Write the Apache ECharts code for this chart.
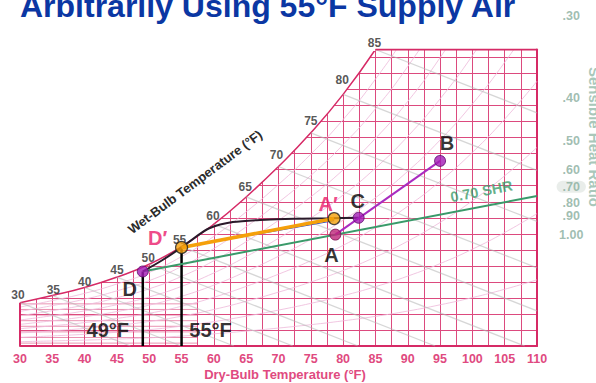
<!DOCTYPE html>
<html>
<head>
<meta charset="utf-8">
<script src="https://cdn.jsdelivr.net/npm/echarts@6/dist/echarts.min.js"></script>
<style>
  html, body { margin: 0; padding: 0; background: #fff; }
  #chart { width: 596px; height: 383px; }
</style>
</head>
<body>
<div id="chart"></div>
<script>
// Dry-bulb scale (°F)
const dryBulbTicks = [30, 35, 40, 45, 50, 55, 60, 65, 70, 75, 80, 85, 90, 95, 100, 105, 110];
// Saturation curve: dry-bulb (°F) vs humidity ratio (grains per lb of dry air)
const satDryBulb = [30, 35, 40, 45, 50, 55, 60, 65, 70, 75, 80, 85, 90, 95, 100, 105, 110];
const satGrains  = [27, 31.5, 36.5, 43, 51, 62, 76, 93, 112, 133, 157, 185, 218, 257, 302, 354, 413];
// Wet-bulb scale printed along the saturation curve
const wetBulbLabels = [30, 35, 40, 45, 50, 55, 60, 65, 70, 75, 80, 85];
// Relative-humidity curves (%)
const rhLevels = [10, 20, 30, 40, 50, 60, 70, 80, 90];
// Fine humidity-ratio rules in the cold corner (grains/lb)
const fineGrains = [1.8, 5.3, 8.8, 12.3, 15.8, 19.3, 22.8, 26.3];
// Sensible heat ratio scale
const shrLabels = ['.30', '.40', '.50', '.60', '.70', '.80', '.90', '1.00'];
const shrGrains = [206, 155, 128, 110, 99.4, 89.4, 81.2, 69.4];

// State points [dry-bulb °F, grains/lb]
const pointA  = [78.8, 69.5];
const pointB  = [95, 115.5];
const pointC  = [82.4, 80];
const pointD  = [49, 46.5];
const pointAp = [78.6, 79.5];
const pointDp = [55, 61.5];
// Coil process curve from D up to C
const coilCurve = [[49, 46.5], [52, 53.5], [55, 61.5], [57, 67.5], [59.3, 73.5], [62.9, 77.3], [68, 78.8], [73, 79.4], [78, 79.7], [82.4, 80]];
// 0.70 SHR room line end on the right edge
const shrLineEnd = [110, 93.6];

const GRID_PINK = '#dc4a7e';
const EDGE_PINK = '#d62a66';
const WB_SLOPE = 1.58;          // grains per °F along a wet-bulb line
const FONT = 'Liberation Sans, Arial, Helvetica, sans-serif';

const pairs = (xs, ys) => xs.map((x, i) => [x, ys[i]]);
const satIdx85 = satDryBulb.indexOf(85);
const satCurve = pairs(satDryBulb.slice(0, satIdx85 + 1), satGrains.slice(0, satIdx85 + 1));

// wet-bulb lines start on the saturation curve and run down to the right
const wbSeries = wetBulbLabels.map(t => {
  const w0 = satGrains[satDryBulb.indexOf(t)];
  let xEnd = t + w0 / WB_SLOPE;
  if (xEnd > 110) xEnd = 110;
  return {
    type: 'line', z: 3, silent: true, symbol: 'none',
    data: [[t, w0], [xEnd, w0 - (xEnd - t) * WB_SLOPE]],
    lineStyle: { color: '#b4b4b4', width: 1.3, opacity: 0.55 }
  };
});

const rhSeries = rhLevels.map(rh => ({
  type: 'line', z: 3, silent: true, symbol: 'none', smooth: true,
  data: satDryBulb.map((t, i) => [t, satGrains[i] * rh / 100]),
  lineStyle: { color: '#eebcdc', width: 1, opacity: 0.85 }
}));

const fineSeries = fineGrains.map(g => ({
  type: 'line', z: 1, silent: true, symbol: 'none',
  data: [[30, g], [57.5, g]],
  lineStyle: { color: GRID_PINK, width: 0.8, opacity: 0.75 }
}));

// label offsets for the wet-bulb numbers (px)
const wbLabelOffset = [[-2, -8], [1, -6], [0, -6], [0, -7], [-1, -6], [-2, -7], [-1, -8], [-1, -10], [-2, -11], [0, -12], [-1, -14], [-1, -7]];

const shrRef = pointA;
const shrTicks = shrGrains.map(g => {
  const end = [112.6, g - 1.5];
  const k = (end[1] - shrRef[1]) / (end[0] - shrRef[0]);
  return [[110.6, end[1] - 2 * k], end];
});

const stateLabel = (text, color, offset) => ({
  show: true, position: 'inside', offset, formatter: text,
  color, fontFamily: FONT, fontWeight: 'bold', fontSize: 20
});

const txt = (x, y, text, fill, font, align, extra) => Object.assign({
  type: 'text', x, y, z: 100, silent: true,
  style: { text, fill, font: font + ' ' + FONT, textAlign: align, textVerticalAlign: 'middle', verticalAlign: 'middle' }
}, extra || {});

const option = {
  animation: false,
  grid: { left: 20, right: 59, top: 49.5, bottom: 37 },
  xAxis: {
    type: 'value', min: 30, max: 110, interval: 5,
    axisLine: { lineStyle: { color: EDGE_PINK, width: 2 } },
    axisTick: { show: false },
    minorTick: { show: false, splitNumber: 2 },
    axisLabel: {
      color: '#e04a80', fontFamily: FONT, fontWeight: 'bold', fontSize: 12.5, margin: 6,
      customValues: dryBulbTicks
    },
    splitLine: { show: true, lineStyle: { color: GRID_PINK, width: 1 } },
    minorSplitLine: { show: true, lineStyle: { color: GRID_PINK, width: 1 } }
  },
  yAxis: {
    type: 'value', min: 0, max: 185, interval: 10, position: 'right',
    axisLine: { show: true, lineStyle: { color: EDGE_PINK, width: 2 } },
    axisTick: { show: false },
    axisLabel: { show: false },
    splitLine: { show: true, lineStyle: { color: GRID_PINK, width: 1 } }
  },
  graphic: [
    txt(20, 6, 'Arbitrarily Using 55°F Supply Air', '#0b37a3', 'bold 32px', 'left'),
    txt(195, 182, 'Wet-Bulb Temperature (°F)', '#2b2b2b', 'bold 13px', 'center', { rotation: 0.642 }),
    txt(285, 374, 'Dry-Bulb Temperature (°F)', '#e04a80', 'bold 13px', 'center'),
    txt(594, 137, 'Sensible Heat Ratio', '#a9c7ba', 'bold 15px', 'center', { rotation: -Math.PI / 2 })
  ],
  series: [
    ...fineSeries,
    // saturation curve; the white area above it hides the grid
    {
      type: 'line', z: 2, silent: true, symbol: 'none', smooth: true,
      data: satCurve,
      lineStyle: { color: EDGE_PINK, width: 1.5 },
      areaStyle: { color: '#ffffff', opacity: 1, origin: 'end' }
    },
    // clear the top grid line above the saturation curve
    { type: 'line', z: 2, silent: true, symbol: 'none', clip: false, data: [[29, 185], [85, 185]], lineStyle: { color: '#ffffff', width: 3 } },
    ...rhSeries,
    ...wbSeries,
    // chart outline: top edge and left edge
    { type: 'line', z: 4, silent: true, symbol: 'none', data: [[85, 185], [110, 185]], lineStyle: { color: EDGE_PINK, width: 2 } },
    { type: 'line', z: 4, silent: true, symbol: 'none', data: [[30, 0], satCurve[0]], lineStyle: { color: EDGE_PINK, width: 2 } },
    // wet-bulb numbers
    {
      type: 'scatter', z: 5, silent: true, symbolSize: 0,
      data: wetBulbLabels.map((t, i) => ({
        value: [t, satGrains[satDryBulb.indexOf(t)]],
        label: { offset: wbLabelOffset[i] }
      })),
      label: { show: true, position: 'inside', formatter: p => String(p.value[0]), color: '#2b2b2b', fontFamily: FONT, fontWeight: 'bold', fontSize: 12 }
    },
    // dry-bulb drop lines from D and D'
    { type: 'line', z: 6, silent: true, symbol: 'none', data: [[pointD[0], 0], pointD], lineStyle: { color: '#000', width: 2.5 } },
    { type: 'line', z: 6, silent: true, symbol: 'none', data: [[pointDp[0], 0], pointDp], lineStyle: { color: '#000', width: 2.5 } },
    // 0.70 SHR room line
    { type: 'line', z: 6, silent: true, symbol: 'none', data: [pointD, shrLineEnd], lineStyle: { color: '#3a9a6a', width: 2 } },
    // coil curve
    { type: 'line', z: 6, silent: true, symbol: 'none', smooth: 0.3, data: coilCurve, lineStyle: { color: '#2a1a2a', width: 2 } },
    // mixed-air line from A through C to B
    { type: 'line', z: 6, silent: true, symbol: 'none', data: [pointA, pointB], lineStyle: { color: '#a92cc0', width: 2 } },
    // supply line D' to A'
    { type: 'line', z: 7, silent: true, symbol: 'none', data: [pointDp, [pointAp[0], pointAp[1] - 1.3]], lineStyle: { color: '#2244cc', width: 1 } },
    { type: 'line', z: 7, silent: true, symbol: 'none', data: [pointDp, pointAp], lineStyle: { color: '#f5a00a', width: 3.5 } },
    // state points
    {
      type: 'scatter', z: 8, silent: true,
      data: [
        { value: pointA, symbolSize: 11, itemStyle: { color: '#c0267a', borderColor: '#7a1050', borderWidth: 1 }, label: stateLabel('A', '#000', [-4, 20]) },
        { value: pointB, symbolSize: 11, itemStyle: { color: '#a21cb5', borderColor: '#5a0a68', borderWidth: 1 }, label: stateLabel('B', '#000', [7, -18]) },
        { value: pointC, symbolSize: 11, itemStyle: { color: '#a21cb5', borderColor: '#5a0a68', borderWidth: 1 }, label: stateLabel('C', '#000', [-1, -17]) },
        { value: pointD, symbolSize: 11, itemStyle: { color: '#a21cb5', borderColor: '#5a0a68', borderWidth: 1 }, label: stateLabel('D', '#000', [-13, 18]) },
        { value: pointAp, symbolSize: 12, itemStyle: { color: '#f5a00a', borderColor: '#222', borderWidth: 1.2 }, label: stateLabel('A′', '#ea1a6a', [-6, -15]) },
        { value: pointDp, symbolSize: 12, itemStyle: { color: '#f5a00a', borderColor: '#222', borderWidth: 1.2 }, label: stateLabel('D′', '#ea1a6a', [-24, -9]) }
      ]
    },
    // temperature callouts beside the drop lines
    {
      type: 'scatter', z: 8, silent: true, symbolSize: 0,
      data: [
        { value: [pointD[0], 10], label: { offset: [-35, 0] } },
        { value: [pointDp[0], 10], label: { offset: [29, 0] } }
      ],
      label: { show: true, position: 'inside', formatter: p => p.value[0] + '°F', color: '#000', fontFamily: FONT, fontWeight: 'bold', fontSize: 20 }
    },
    // 0.70 SHR caption
    {
      type: 'scatter', z: 8, silent: true, symbolSize: 0,
      data: [{ value: [101.4, 96.5] }],
      label: { show: true, position: 'inside', rotate: 11, formatter: '0.70 SHR', color: '#3a9a6a', fontFamily: FONT, fontWeight: 'bold', fontSize: 14.5 }
    },
    // SHR scale ticks and values
    ...shrTicks.map(seg => ({
      type: 'line', z: 5, silent: true, symbol: 'none', clip: false, data: seg,
      lineStyle: { color: '#b8ccc4', width: 1.2 }
    })),
    {
      type: 'scatter', z: 6, silent: true, symbolSize: 0, clip: false,
      data: shrGrains.map((g, i) => ({
        value: [115.3, g], name: shrLabels[i],
        label: shrLabels[i] === '.70' ? { backgroundColor: '#e3e8e5', borderRadius: 9, padding: [0, 6] } : {}
      })),
      label: { show: true, position: 'inside', formatter: p => p.name, color: '#88ad9d', fontFamily: FONT, fontWeight: 'bold', fontSize: 12.5, lineHeight: 12 }
    }
  ]
};

const chart = echarts.init(document.getElementById('chart'), null, { renderer: 'svg' });
chart.setOption(option);
</script>
</body>
</html>
